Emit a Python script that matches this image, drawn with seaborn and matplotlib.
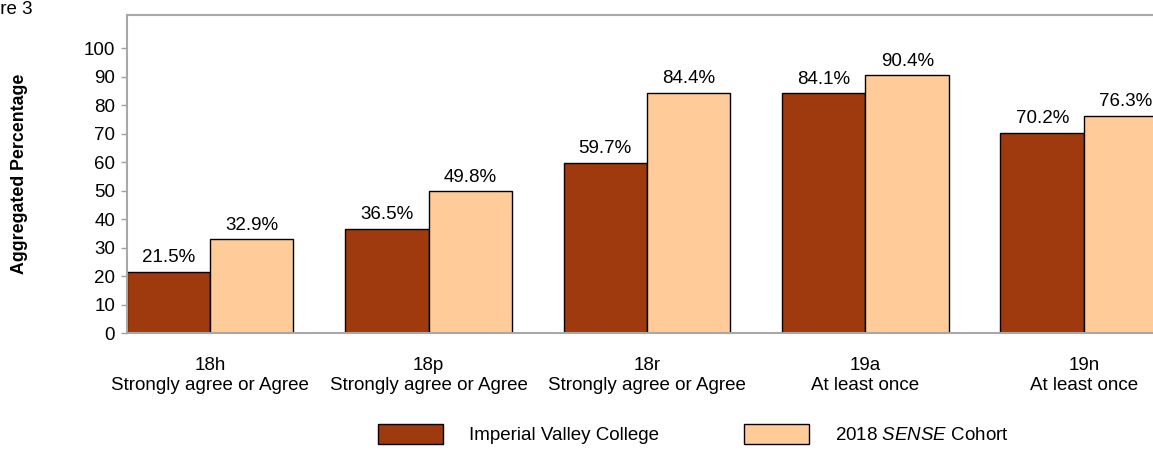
import pandas as pd
import matplotlib
matplotlib.use("Agg")
import matplotlib.pyplot as plt
import seaborn as sns
from matplotlib.patches import Patch

# values
items = ["18h", "18p", "18r", "19a", "19n"]
answers = ["Strongly agree or Agree", "Strongly agree or Agree",
           "Strongly agree or Agree", "At least once", "At least once"]
college = [21.5, 36.5, 59.7, 84.1, 70.2]
cohort = [32.9, 49.8, 84.4, 90.4, 76.3]
groups = ["Imperial Valley College", "2018 SENSE Cohort"]
colors = ["#9E3A0E", "#FFCC99"]

labels = [f"{i}\n{a}" for i, a in zip(items, answers)]
df = pd.DataFrame({
    "item": labels * 2,
    "group": [groups[0]] * 5 + [groups[1]] * 5,
    "value": college + cohort,
})

sns.set_style("white")
plt.rcParams["font.family"] = ["Liberation Sans", "DejaVu Sans"]
plt.rcParams["mathtext.fontset"] = "custom"
plt.rcParams["mathtext.it"] = "Liberation Sans:italic"
plt.rcParams["mathtext.rm"] = "Liberation Sans"
plt.rcParams["text.color"] = "black"
plt.rcParams["xtick.labelcolor"] = "black"
plt.rcParams["ytick.labelcolor"] = "black"

fs = 13.5
fig = plt.figure(figsize=(11.53, 4.5), dpi=100)
ax = fig.add_axes([127 / 1153, 1 - 333 / 450, 1 - 127 / 1153, (333 - 15) / 450])

sns.barplot(data=df, x="item", y="value", hue="group", palette=colors,
            saturation=1, width=0.764, gap=0, edgecolor="black", linewidth=1,
            legend=False, ax=ax)

for cont in ax.containers:
    ax.bar_label(cont, fmt="%.1f%%", padding=4, fontsize=fs, color="black")

ax.set_xlim(-0.38, 4.316)
ax.set_ylim(0, 111.6)
ax.set_yticks(range(0, 101, 10))
ax.set_xlabel("")
ax.set_ylabel("")
ax.tick_params(axis="y", left=True, length=4.5, width=1, color="#a0a0a0",
               pad=4, labelsize=fs, labelcolor="black")
ax.tick_params(axis="x", length=0, pad=17, labelsize=fs, labelcolor="black")
for lbl in ax.get_xticklabels():
    lbl.set_linespacing(1.27)

for side in ["top", "left", "bottom"]:
    ax.spines[side].set_color("#a8a8a8")
    ax.spines[side].set_linewidth(1.5)
ax.spines["right"].set_visible(False)

fig.text(20 / 1153, 1 - 174 / 450, "Aggregated Percentage", rotation=90,
         ha="center", va="center", fontsize=12.8, fontweight="bold")
fig.text(33 / 1153, 1 - 10 / 450, "Figure 3", ha="right", va="center", fontsize=fs)

handles = [Patch(facecolor=c, edgecolor="black", linewidth=1) for c in colors]
fig.legend(handles, ["Imperial Valley College", "2018 $\\it{SENSE}$ Cohort"],
           loc="center left", bbox_to_anchor=(378 / 1153, 1 - 434 / 450), ncol=2,
           frameon=False, fontsize=fs, handlelength=3.47, handleheight=1.3,
           handletextpad=1.4, columnspacing=4.5, borderpad=0, borderaxespad=0)

fig.savefig("out.png", dpi=100)
